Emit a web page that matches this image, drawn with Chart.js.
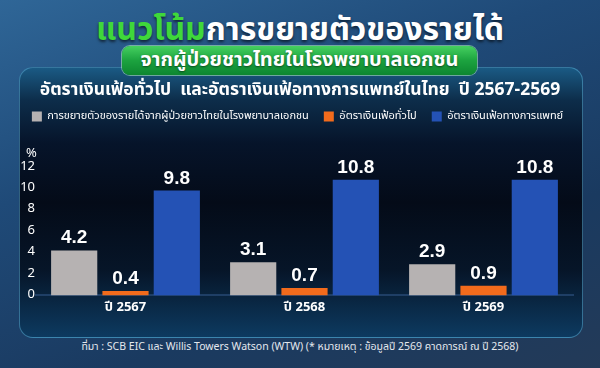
<!DOCTYPE html>
<html>
<head>
<meta charset="utf-8">
<script src="https://cdn.jsdelivr.net/npm/chart.js@4.4.1/dist/chart.umd.min.js"></script>
<style>
  html, body { margin: 0; padding: 0; }
  body {
    width: 600px; height: 368px; overflow: hidden; position: relative;
    font-family: "Noto Sans Thai", "Noto Sans", "DejaVu Sans", sans-serif;
    background: linear-gradient(160deg, #2f6697 0%, #1f4a78 35%, #1a3a60 70%, #233a58 100%);
  }
  .title {
    position: absolute; left: 0; width: 600px; top: 8px; text-align: center;
    font-size: 32px; font-weight: 700; color: #fff; line-height: 44px;
    text-shadow: 0 2px 3px rgba(0,0,0,0.6);
  }
  .title .g { color: #3fd83a; }
  .pill {
    position: absolute; left: 122px; top: 46px; width: 355px; height: 29px;
    border-radius: 8px; z-index: 2;
    background: linear-gradient(180deg, #45d060 0%, #1ca33f 50%, #0d8630 100%);
    box-shadow: 0 0 0 1px rgba(200,255,200,0.5);
    color: #fff; font-size: 20px; font-weight: 700; text-align: center; line-height: 29px;
    text-shadow: 0 1px 2px rgba(0,0,0,0.5);
  }
  .panel {
    position: absolute; left: 19px; top: 67px; width: 562px; height: 269px;
    border-radius: 14px; border: 1px solid rgba(90,170,210,0.55);
    background: linear-gradient(180deg, #1a5a84 0%, #0d2d4a 12%, #06142a 28%, #040b18 50%, #061528 75%, #0d3a60 100%);
  }
  .sub {
    position: absolute; left: 0; width: 600px; top: 78px; text-align: center;
    font-size: 17.5px; font-weight: 700; color: #fff; line-height: 24px; z-index: 2;
  }
  .pct { position: absolute; left: 26px; top: 143px; color: #fff; font-size: 13px; z-index: 2; }
  .chart-wrap { position: absolute; left: 0; top: 96px; width: 600px; height: 225px; z-index: 1; }
  .note {
    position: absolute; left: 0; width: 600px; top: 338px; text-align: center;
    color: #e4e8ee; font-size: 10.5px; line-height: 18px;
  }
</style>
</head>
<body>
<div class="panel"></div>
<div class="title"><span class="g">แนวโน้ม</span>การขยายตัวของรายได้</div>
<div class="pill">จากผู้ป่วยชาวไทยในโรงพยาบาลเอกชน</div>
<div class="sub">อัตราเงินเฟ้อทั่วไป&nbsp; และอัตราเงินเฟ้อทางการแพทย์ในไทย&nbsp; ปี 2567-2569</div>
<div class="pct">%</div>
<div class="chart-wrap"><canvas id="chart"></canvas></div>
<div class="note">ที่มา : SCB EIC และ Willis Towers Watson (WTW) (* หมายเหตุ : ข้อมูลปี 2569 คาดการณ์ ณ ปี 2568)</div>

<script>
  const years = ['ปี 2567', 'ปี 2568', 'ปี 2569'];
  const seriesNames = [
    'การขยายตัวของรายได้จากผู้ป่วยชาวไทยในโรงพยาบาลเอกชน',
    'อัตราเงินเฟ้อทั่วไป',
    'อัตราเงินเฟ้อทางการแพทย์'
  ];
  const revenueGrowth = [4.2, 3.1, 2.9];
  const generalInflation = [0.4, 0.7, 0.9];
  const medicalInflation = [9.8, 10.8, 10.8];
  const yTicks = [0, 2, 4, 6, 8, 10, 12];

  const FONT = '"Noto Sans Thai", "Noto Sans", "DejaVu Sans", sans-serif';

  // value labels above each bar
  const valueLabels = {
    id: 'valueLabels',
    afterDatasetsDraw(chart) {
      const ctx = chart.ctx;
      ctx.save();
      ctx.fillStyle = '#ffffff';
      ctx.font = 'bold 19px "Liberation Sans", Arial, sans-serif';
      ctx.textAlign = 'center';
      ctx.textBaseline = 'alphabetic';
      chart.data.datasets.forEach((ds, i) => {
        chart.getDatasetMeta(i).data.forEach((bar, j) => {
          ctx.fillText(ds.data[j].toFixed(1), bar.x, bar.y - 7);
        });
      });
      ctx.restore();
    }
  };

  // extra room between legend and plot, and nudge legend to the panel centre
  const legendGap = {
    id: 'legendGap',
    beforeInit(chart) {
      const fit = chart.legend.fit;
      chart.legend.fit = function () {
        fit.bind(chart.legend)();
        this.height += 35;
      };
    },
    afterLayout(chart) {
      chart.legend.left += 11;
      chart.legend.right += 11;
    }
  };

  new Chart(document.getElementById('chart'), {
    type: 'bar',
    data: {
      labels: years,
      datasets: [
        { label: seriesNames[0], data: revenueGrowth, backgroundColor: '#b6b2b2' },
        { label: seriesNames[1], data: generalInflation, backgroundColor: '#f26b1c' },
        { label: seriesNames[2], data: medicalInflation, backgroundColor: '#2452b5' }
      ]
    },
    options: {
      responsive: true, maintainAspectRatio: false, animation: false,
      layout: { padding: { left: 0, right: 27, top: 0, bottom: 0 } },
      datasets: { bar: { categoryPercentage: 0.86, barPercentage: 0.9 } },
      plugins: {
        legend: {
          position: 'top',
          labels: { color: '#ffffff', boxWidth: 10, boxHeight: 10, padding: 15, font: { family: FONT, size: 11 } }
        },
        tooltip: { enabled: false }
      },
      scales: {
        x: {
          grid: { display: false, drawTicks: false },
          border: { color: '#1f3f66', width: 2 },
          ticks: { color: '#ffffff', padding: 5, font: { family: FONT, size: 13, weight: 'bold' } }
        },
        y: {
          min: 0, max: 12,
          afterBuildTicks: s => { s.ticks = yTicks.map(v => ({ value: v })); },
          afterFit: s => { s.width = 36; },
          grid: { display: false, drawTicks: false },
          border: { display: false },
          ticks: { color: '#ffffff', padding: 1, autoSkip: false, font: { family: FONT, size: 13 } }
        }
      }
    },
    plugins: [valueLabels, legendGap]
  });
</script>
</body>
</html>
